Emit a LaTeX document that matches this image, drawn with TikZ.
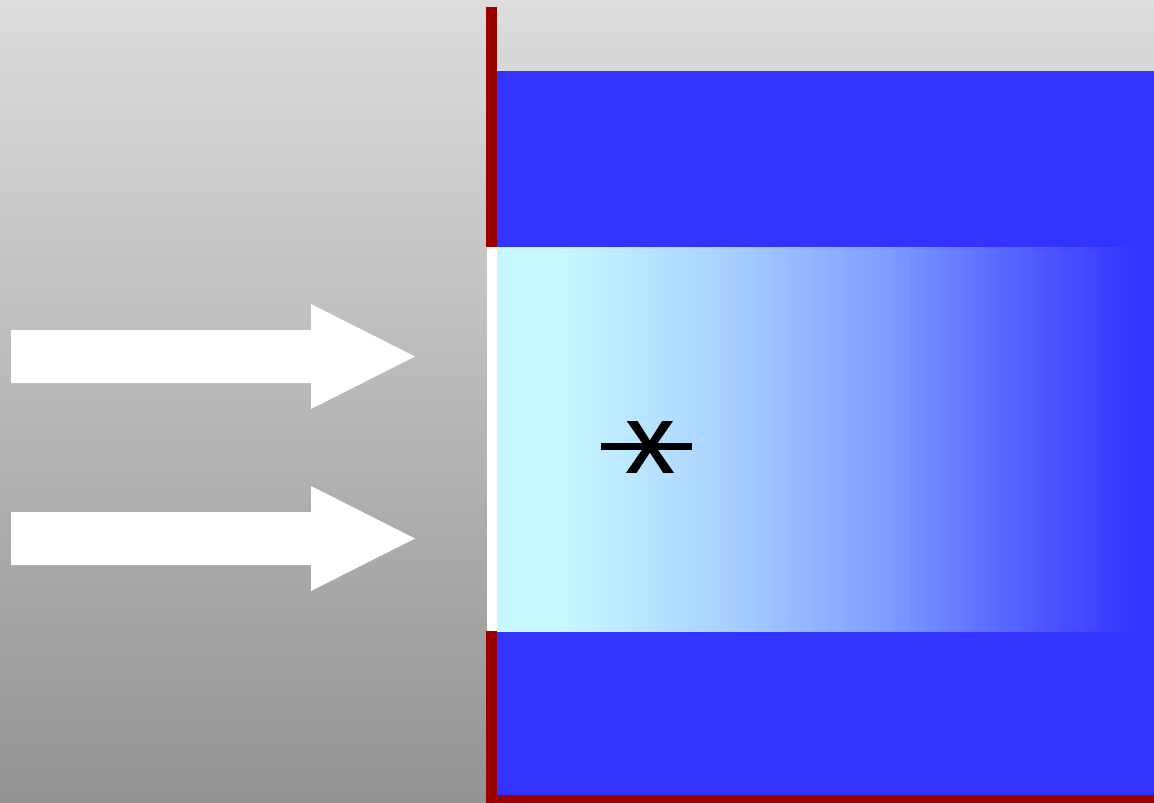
\documentclass[tikz,border=0pt]{standalone}
\usepackage{fontspec}
\setmainfont{Liberation Sans}
\newfontfamily\symfont[FakeBold=1.2]{Liberation Sans}
\begin{document}
\begin{tikzpicture}[x=1pt,y=-1pt,
  wall/.style={fill={rgb,255:red,153;green,0;blue,0}, draw=none},
  bluebox/.style={fill={rgb,255:red,51;green,51;blue,255}, draw=none},
  bigarrow/.style={fill=white, draw=none}]
\definecolor{topgray}{RGB}{221,221,221}
\definecolor{botgray}{RGB}{147,147,147}
\definecolor{cyanl}{RGB}{200,248,255}
\definecolor{midb}{RGB}{170,210,255}
\definecolor{midc}{RGB}{130,160,255}
\definecolor{midd}{RGB}{85,100,255}
\definecolor{blueend}{RGB}{51,51,255}
\pgfdeclarehorizontalshading{fadeblue}{100bp}{
  color(0bp)=(cyanl); color(25bp)=(cyanl); color(30bp)=(cyanl); color(42bp)=(midb);
  color(54bp)=(midc); color(64bp)=(midd); color(74bp)=(blueend); color(100bp)=(blueend)}
\useasboundingbox (0,0) rectangle (1154,803);
% background
\shade[top color=topgray, bottom color=botgray] (0,0) rectangle (1154,803);
% blue slabs
\path[bluebox] (497,71) rectangle (1154,247);
\path[bluebox] (497,631) rectangle (1154,795);
% gradient middle
\shade[shading=fadeblue] (497,247) rectangle (1154,631);
% white strip
\path[fill=white] (487,247) rectangle (497,631);
% red wall
\path[wall] (486,7) rectangle (497,247);
\path[wall] (486,631) rectangle (497,803);
\path[wall] (486,795) rectangle (1154,803);
% arrows
\path[bigarrow] (11,330) -- (311,330) -- (311,304) -- (415,356.5) -- (311,409) -- (311,383) -- (11,383) -- cycle;
\path[bigarrow] (11,512) -- (311,512) -- (311,486) -- (415,538.5) -- (311,591) -- (311,565) -- (11,565) -- cycle;
% symbol
\node[inner sep=0, font=\fontsize{96}{96}\symfont] (xs) at (650,447) {x};
\draw[line width=7pt] ([xshift=-49pt,yshift=1pt]xs.center) -- ([xshift=42pt,yshift=1pt]xs.center);
\end{tikzpicture}
\end{document}
